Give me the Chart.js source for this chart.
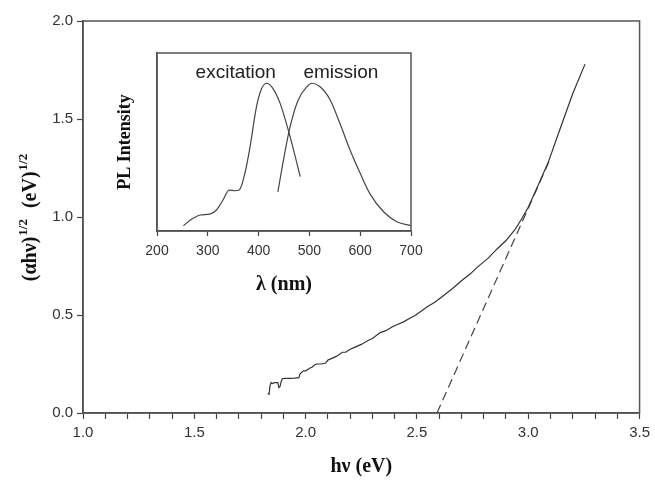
<!DOCTYPE html>
<html>
<head>
<meta charset="utf-8">
<script src="https://cdn.jsdelivr.net/npm/chart.js@4/dist/chart.umd.min.js"></script>
<style>
  body { margin: 0; background: #fff; }
  #wrap { position: relative; width: 655px; height: 480px; }
  #main { position: absolute; left: 0; top: 0; }
  #inset { position: absolute; left: 100px; top: 45px; }
</style>
</head>
<body>
<div id="wrap">
  <canvas id="main" width="655" height="480"></canvas>
  <canvas id="inset" width="330" height="260"></canvas>
</div>
<script>
// ----- DATA ----- //
// ---------------- //

// Main plot: (alpha h nu)^1/2 against photon energy
const photonEnergy = [1.83, 1.836, 1.84, 1.845, 1.85, 1.86, 1.87, 1.875, 1.88, 1.885, 1.89, 1.895, 1.91, 1.93, 1.95, 1.97, 1.975, 1.99, 2.00, 2.02, 2.03, 2.04, 2.05, 2.07, 2.09, 2.10, 2.12, 2.14, 2.165, 2.18, 2.20, 2.22, 2.25, 2.28, 2.30, 2.335, 2.36, 2.39, 2.41, 2.44, 2.47, 2.49, 2.52, 2.55, 2.58, 2.62, 2.66, 2.70, 2.74, 2.77, 2.82, 2.86, 2.90, 2.94, 2.97, 3.00, 3.04, 3.09, 3.14, 3.20, 3.255];
const sqrtAbsorption = [0.10, 0.096, 0.14, 0.155, 0.15, 0.155, 0.155, 0.155, 0.13, 0.135, 0.16, 0.175, 0.177, 0.177, 0.178, 0.18, 0.20, 0.215, 0.215, 0.23, 0.235, 0.245, 0.25, 0.25, 0.255, 0.27, 0.28, 0.29, 0.31, 0.31, 0.325, 0.335, 0.35, 0.37, 0.38, 0.41, 0.42, 0.44, 0.45, 0.465, 0.485, 0.496, 0.52, 0.545, 0.565, 0.60, 0.635, 0.675, 0.71, 0.743, 0.79, 0.837, 0.88, 0.935, 0.99, 1.05, 1.15, 1.28, 1.44, 1.63, 1.78];

// Linear extrapolation to the band gap
const fitEnergy = [2.59, 3.10];
const fitValue = [0.0, 1.30];

// Inset: PL spectra
const exWavelength = [252, 271, 285, 304, 317, 330, 342, 354, 362, 373, 383, 396, 406, 416, 426, 442, 462, 482];
const exIntensity = [0.03, 0.071, 0.09, 0.095, 0.118, 0.174, 0.23, 0.226, 0.23, 0.324, 0.47, 0.70, 0.80, 0.83, 0.81, 0.72, 0.53, 0.305];
const emWavelength = [438, 449, 462, 478, 495, 505, 521, 541, 560, 580, 600, 619, 646, 672, 700];
const emIntensity = [0.22, 0.40, 0.586, 0.736, 0.81, 0.83, 0.81, 0.736, 0.605, 0.455, 0.324, 0.21, 0.108, 0.052, 0.03];

const xTicksMain = [1.0, 1.5, 2.0, 2.5, 3.0, 3.5];
const insetLabels = ['excitation', 'emission'];


// ----- HELPERS ----- //
// ------------------- //

function toPoints(xs, ys) {
  return xs.map((x, i) => ({x: x, y: ys[i]}));
}

const sansFont = 'Liberation Sans, Arial, sans-serif';
const serifFont = 'Liberation Serif, Times New Roman, serif';

// box around the plot area
const framePlugin = {
  id: 'frame',
  afterDraw(chart) {
    const a = chart.chartArea;
    const ctx = chart.ctx;
    ctx.save();
    ctx.strokeStyle = '#555';
    ctx.lineWidth = 1.5;
    ctx.strokeRect(a.left, a.top, a.right - a.left, a.bottom - a.top);
    ctx.restore();
  }
};

// y title with superscripts
const yTitlePlugin = {
  id: 'ytitle',
  afterDraw(chart) {
    const a = chart.chartArea;
    const ctx = chart.ctx;
    const big = 'bold 20px ' + serifFont;
    const small = 'bold 13px ' + serifFont;
    const parts = [['(\u03b1h\u03bd)', big, 0], ['1/2', small, -9], ['  (eV)', big, 0], ['1/2', small, -9]];
    ctx.save();
    let total = 0;
    for (const p of parts) { ctx.font = p[1]; total += ctx.measureText(p[0]).width + 1; }
    ctx.translate(29, (a.top + a.bottom) / 2);
    ctx.rotate(-Math.PI / 2);
    ctx.fillStyle = '#111';
    ctx.textBaseline = 'alphabetic';
    let x = -total / 2;
    for (const p of parts) {
      ctx.font = p[1];
      ctx.fillText(p[0], x, 7 + p[2]);
      x += ctx.measureText(p[0]).width + 1;
    }
    ctx.restore();
  }
};

// curve names in the inset
const insetLabelPlugin = {
  id: 'insetlabels',
  afterDraw(chart) {
    const sx = chart.scales.x, sy = chart.scales.y;
    const ctx = chart.ctx;
    ctx.save();
    ctx.font = '19px ' + sansFont;
    ctx.fillStyle = '#222';
    ctx.textAlign = 'center';
    ctx.textBaseline = 'middle';
    ctx.fillText(insetLabels[0], sx.getPixelForValue(355), sy.getPixelForValue(0.89));
    ctx.fillText(insetLabels[1], sx.getPixelForValue(562), sy.getPixelForValue(0.89));
    ctx.restore();
  }
};


// ----- MAIN CHART ----- //
// ---------------------- //

new Chart(document.getElementById('main').getContext('2d'), {
  type: 'scatter',
  data: {
    datasets: [
      {
        label: 'data',
        data: toPoints(photonEnergy, sqrtAbsorption),
        showLine: true,
        borderColor: '#333',
        borderWidth: 1.2,
        pointRadius: 0,
        tension: 0
      },
      {
        label: 'fit',
        data: toPoints(fitEnergy, fitValue),
        showLine: true,
        borderColor: '#444',
        borderWidth: 1.2,
        borderDash: [9, 5],
        pointRadius: 0
      }
    ]
  },
  options: {
    responsive: false,
    animation: false,
    layout: { padding: { left: 0, right: 12, top: 21, bottom: 0 } },
    plugins: { legend: { display: false }, tooltip: { enabled: false } },
    scales: {
      x: {
        type: 'linear', min: 1, max: 3.5,
        afterFit: s => { s.height = 67; },
        ticks: {
          stepSize: 0.1, autoSkip: false, maxRotation: 0, maxTicksLimit: 100, padding: 5,
          color: '#333', font: { family: sansFont, size: 15 },
          callback: v => {
            const hit = xTicksMain.find(t => Math.abs(t - v) < 1e-6);
            return hit === undefined ? '' : hit.toFixed(1);
          }
        },
        grid: { drawOnChartArea: false, tickLength: 6, color: '#444', tickWidth: 1.2 },
        border: { color: '#444', width: 1.5 },
        title: {
          display: true, text: 'h\u03bd (eV)', color: '#111',
          font: { family: serifFont, size: 20, weight: 'bold' },
          padding: { top: 0, bottom: 1 }
        }
      },
      y: {
        type: 'linear', min: 0, max: 2,
        afterFit: s => { s.width = 83; },
        ticks: {
          stepSize: 0.5, padding: 4, color: '#333',
          font: { family: sansFont, size: 15 },
          callback: v => v.toFixed(1)
        },
        grid: { drawOnChartArea: false, tickLength: 6, color: '#444', tickWidth: 1.2 },
        border: { color: '#444', width: 1.5 }
      }
    }
  },
  plugins: [framePlugin, yTitlePlugin]
});


// ----- INSET CHART ----- //
// ----------------------- //

new Chart(document.getElementById('inset').getContext('2d'), {
  type: 'scatter',
  data: {
    datasets: [
      {
        label: 'excitation',
        data: toPoints(exWavelength, exIntensity),
        showLine: true,
        borderColor: '#444',
        borderWidth: 1.2,
        pointRadius: 0,
        cubicInterpolationMode: 'monotone'
      },
      {
        label: 'emission',
        data: toPoints(emWavelength, emIntensity),
        showLine: true,
        borderColor: '#444',
        borderWidth: 1.2,
        pointRadius: 0,
        cubicInterpolationMode: 'monotone'
      }
    ]
  },
  options: {
    responsive: false,
    animation: false,
    layout: { padding: { left: 0, right: 19, top: 8, bottom: 0 } },
    plugins: { legend: { display: false }, tooltip: { enabled: false } },
    scales: {
      x: {
        type: 'linear', min: 200, max: 700,
        afterFit: s => { s.height = 74; },
        ticks: {
          stepSize: 100, maxRotation: 0, padding: 7, color: '#333',
          font: { family: sansFont, size: 14 }
        },
        grid: { drawOnChartArea: false, tickLength: 5, color: '#444', tickWidth: 1.2 },
        border: { color: '#444', width: 1.5 },
        title: {
          display: true, text: '\u03bb (nm)', color: '#111',
          font: { family: serifFont, size: 20, weight: 'bold' },
          padding: { top: 0, bottom: 8 }
        }
      },
      y: {
        type: 'linear', min: 0, max: 1,
        afterFit: s => { s.width = 57; },
        ticks: { display: false },
        grid: { drawOnChartArea: false, drawTicks: false },
        border: { color: '#444', width: 1.5 },
        title: {
          display: true, text: 'PL Intensity', color: '#111',
          font: { family: serifFont, size: 18, weight: 'bold' },
          padding: { top: 15, bottom: 0 }
        }
      }
    }
  },
  plugins: [framePlugin, insetLabelPlugin]
});
</script>
</body>
</html>
